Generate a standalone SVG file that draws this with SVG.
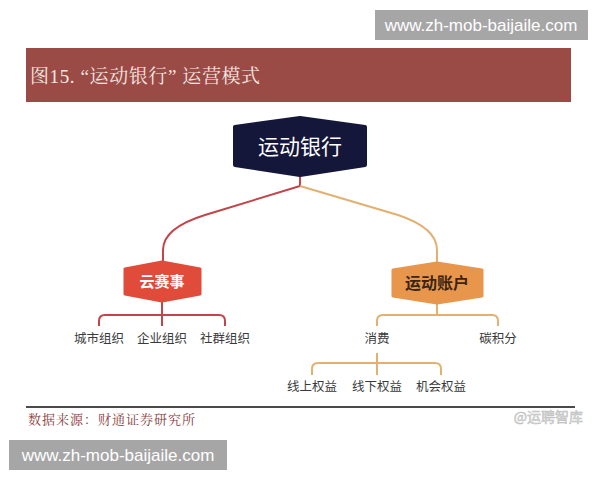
<svg xmlns="http://www.w3.org/2000/svg" width="600" height="480" viewBox="0 0 600 480">
<style>
.cjk{font-family:"Noto Sans CJK SC","Liberation Sans",sans-serif}
.serif{font-family:"Liberation Serif","Noto Serif CJK SC","Noto Sans CJK SC",serif}
.leaf{font-size:12.5px;fill:#3a3a3a;text-anchor:middle}
.wm{font-family:"Liberation Sans","DejaVu Sans",sans-serif;font-size:17px;fill:#ffffff}
.red{fill:none;stroke:#c2454a;stroke-width:2}
.org{fill:none;stroke:#e2b070;stroke-width:2}
</style>
<rect width="600" height="480" fill="#ffffff"/>
<!-- title banner -->
<rect x="26" y="48" width="545" height="54" fill="#9b4b46"/>
<text x="30" y="83" class="serif" font-size="19" letter-spacing="0.6" fill="#f6e8e2">图15. “运动银行” 运营模式</text>
<!-- connectors -->
<g id="connectors">
  <path class="red" d="M300,175 V186"/>
  <path class="red" d="M300,186 L205,215 Q163,228 163,250 V262"/>
  <path class="org" d="M300,186 L398,215 Q437,228 437,250 V262"/>
  <path class="red" d="M162,300 V326"/>
  <path class="red" d="M99,326 V321 Q99,315 105,315 H219 Q225,315 225,321 V326"/>
  <path class="org" d="M437,303 V315"/>
  <path class="org" d="M377,326 V321 Q377,315 383,315 H492 Q498,315 498,321 V326"/>
  <path class="org" d="M377,353 V375"/>
  <path class="org" d="M312,375 V369 Q312,363 318,363 H435 Q441,363 441,369 V375"/>
</g>
<!-- nodes -->
<g id="node-bank">
  <polygon points="235,127 300,118 365,127 365,165 300,175 235,165" fill="#14163a" stroke="#14163a" stroke-width="4" stroke-linejoin="round"/>
  <text x="300" y="154" class="cjk" font-size="21" fill="#ffffff" text-anchor="middle">运动银行</text>
</g>
<g id="node-yunsaishi">
  <polygon points="125,269 162,262 200,269 200,294 162,301 125,294" fill="#e04b3a" stroke="#e04b3a" stroke-width="3" stroke-linejoin="round"/>
  <text x="162" y="287" class="cjk" font-size="15" font-weight="bold" fill="#ffffff" text-anchor="middle">云赛事</text>
</g>
<g id="node-account">
  <polygon points="393,270 437,263 482,270 482,296 437,303 393,296" fill="#e8964c" stroke="#e8964c" stroke-width="3" stroke-linejoin="round"/>
  <text x="437" y="289" class="cjk" font-size="16" font-weight="bold" fill="#3a2414" text-anchor="middle">运动账户</text>
</g>
<g id="leaf-city"><text x="99" y="343" class="cjk leaf">城市组织</text></g>
<g id="leaf-company"><text x="162" y="343" class="cjk leaf">企业组织</text></g>
<g id="leaf-community"><text x="225" y="343" class="cjk leaf">社群组织</text></g>
<g id="leaf-consume"><text x="377" y="343" class="cjk leaf">消费</text></g>
<g id="leaf-carbon"><text x="498" y="343" class="cjk leaf">碳积分</text></g>
<g id="leaf-online"><text x="312" y="391" class="cjk leaf">线上权益</text></g>
<g id="leaf-offline"><text x="377" y="391" class="cjk leaf">线下权益</text></g>
<g id="leaf-chance"><text x="441" y="391" class="cjk leaf">机会权益</text></g>
<!-- footer -->
<line x1="26" y1="407" x2="575" y2="407" stroke="#4a4a4a" stroke-width="2"/>
<text x="28" y="424" class="serif" font-size="13" letter-spacing="1" fill="#8a3c3c">数据来源：财通证券研究所</text>
<text x="583" y="422" class="cjk" font-size="14" fill="#dddddd" stroke="#bbbbbb" stroke-width="0.5" text-anchor="end">@运聘智库</text>
<!-- watermarks -->
<rect x="375" y="10" width="213" height="30" fill="#a6a6a6"/>
<text x="481" y="31" class="wm" text-anchor="middle">www.zh-mob-baijaile.com</text>
<rect x="9" y="440" width="218" height="30" fill="#a6a6a6"/>
<text x="118" y="461" class="wm" text-anchor="middle">www.zh-mob-baijaile.com</text>
</svg>
